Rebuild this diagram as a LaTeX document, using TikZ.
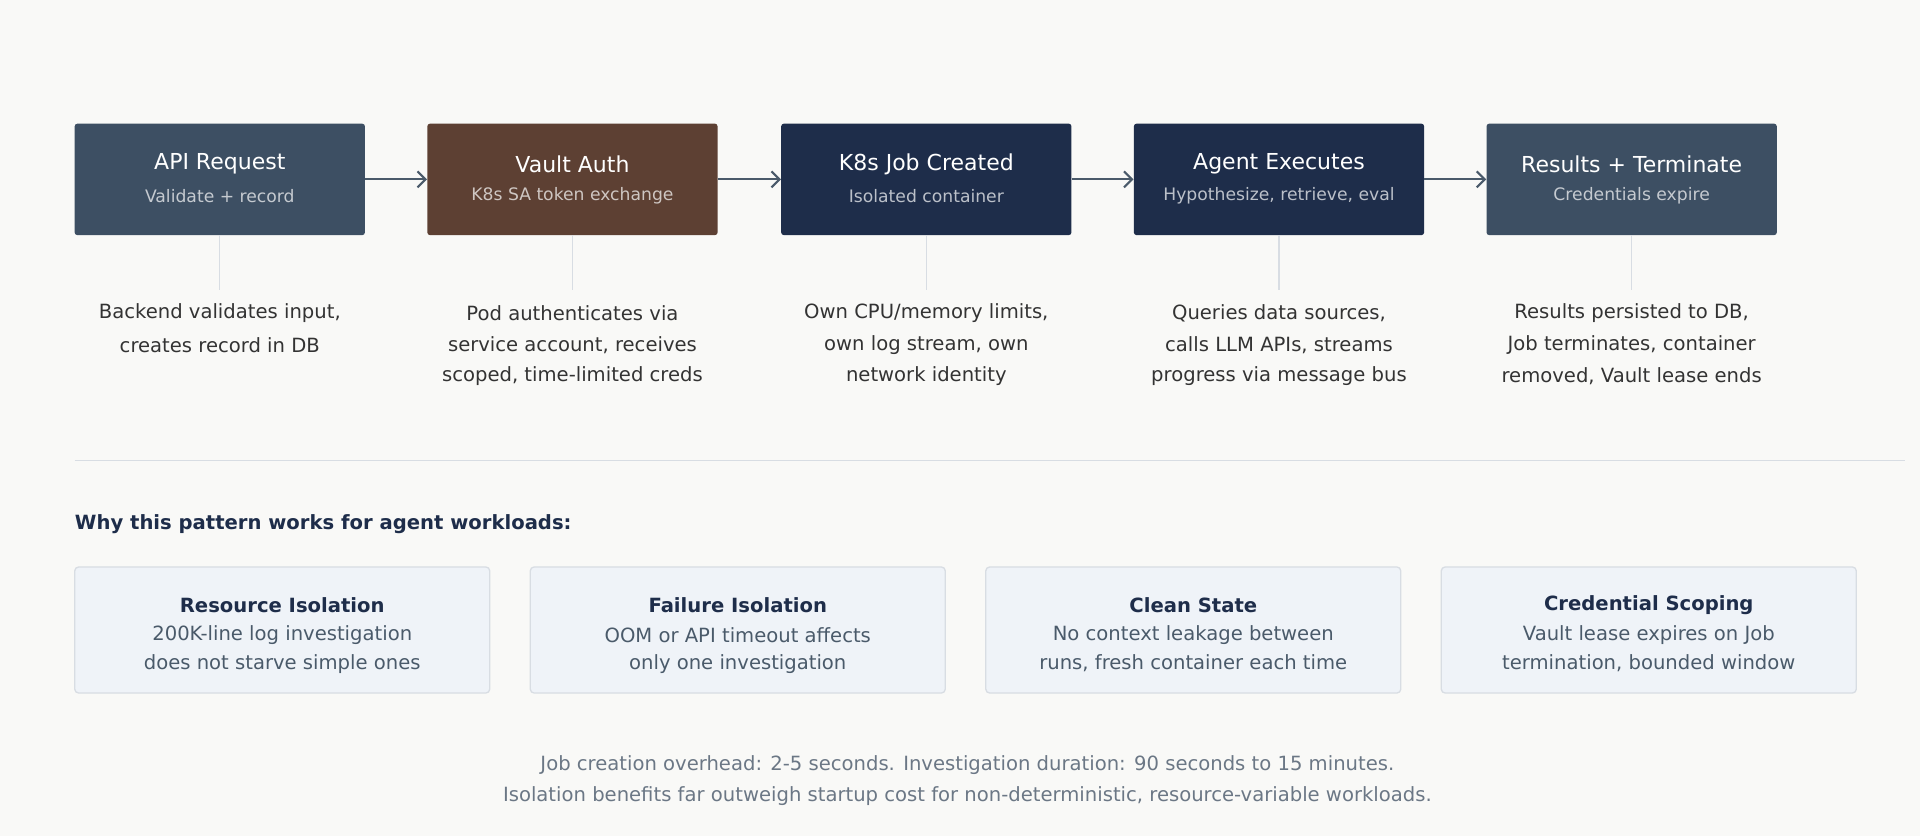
\documentclass[tikz,border=0pt]{standalone}
\usepackage{fontspec}
\setmainfont{DejaVu Sans}
\usetikzlibrary{arrows.meta}
\definecolor{bg}{HTML}{F9F9F7}
\definecolor{slate}{HTML}{3D4F63}
\definecolor{brown}{HTML}{5D4033}
\definecolor{navy}{HTML}{1E2D4A}
\definecolor{arr}{HTML}{4A5A6A}
\definecolor{txt}{HTML}{333333}
\definecolor{cardf}{HTML}{EFF3F8}
\definecolor{cardd}{HTML}{D8DDE3}
\definecolor{foot}{HTML}{6B7785}
\begin{document}
\begin{tikzpicture}[x=0.9184pt,y=-0.9184pt,
  stepbox/.style={rounded corners=2pt,minimum width=217.7pt,minimum height=83.6pt,inner sep=0pt},
  ttl/.style={text=white,font=\fontsize{16.5pt}{19pt}\selectfont},
  sub/.style={font=\fontsize{12.9pt}{15pt}\selectfont},
  desc/.style={text=txt,font=\fontsize{14.7pt}{17pt}\selectfont},
  flow/.style={draw=arr,line width=1.6pt,-{Straight Barb[length=6pt,width=12pt,line width=1.6pt]}},
  stem/.style={draw=cardd,line width=0.8pt},
  card/.style={draw=cardd,fill=cardf,line width=1pt,rounded corners=3pt,minimum width=311.3pt,minimum height=94.6pt},
  ctitle/.style={text=navy,font=\bfseries\fontsize{14.7pt}{17pt}\selectfont},
  ctext/.style={text=arr,font=\fontsize{14.7pt}{17pt}\selectfont}]
\fill[bg] (0,0) rectangle (1568,683);
\useasboundingbox (0,0) rectangle (1568,683);
\foreach \n/\x/\c/\t/\s/\da/\db/\dc in {
 a/179.5/slate/API Request/Validate + record/{Backend validates input,}/creates record in DB/{},
 b/467.5/brown/Vault Auth/K8s SA token exchange/Pod authenticates via/{service account, receives}/{scoped, time-limited creds},
 c/756.5/navy/K8s Job Created/Isolated container/{Own CPU/memory limits,}/{own log stream, own}/network identity,
 d/1044.5/navy/Agent Executes/{Hypothesize, retrieve, eval}/{Queries data sources,}/{calls LLM APIs, streams}/progress via message bus,
 e/1332.5/slate/Results + Terminate/Credentials expire/{Results persisted to DB,}/{Job terminates, container}/{removed, Vault lease ends}}{
  \node[stepbox,fill=\c] (\n) at (\x,146.5) {};
  \node[ttl] (\n t) at (\x,134) {\t};
  \node[sub,text=white!70!\c] (\n s) at (\x,160) {\s};
  \coordinate (\n l) at (\x,237);
  \draw[stem] (\n.south) -- (\n l);
  \node[desc] (\n d1) at (\x,256) {\da};
  \node[desc] (\n d2) at (\x,282) {\db};
  \node[desc] (\n d3) at (\x,307) {\dc};
}
\draw[flow] (a) -- (b);
\draw[flow] (b) -- (c);
\draw[flow] (c) -- (d);
\draw[flow] (d) -- (e);
\coordinate (s1) at (61,376);
\coordinate (s2) at (1556,376);
\draw[cardd,line width=0.8pt] (s1) -- (s2);
\node[anchor=west,inner sep=0pt,text=navy,font=\bfseries\fontsize{14.7pt}{17pt}\selectfont] (why) at (61,428) {Why this pattern works for agent workloads:};
\foreach \n/\x/\t/\la/\lb in {
 r/230.5/Resource Isolation/200K-line log investigation/does not starve simple ones,
 f/602.5/Failure Isolation/OOM or API timeout affects/only one investigation,
 s/974.5/Clean State/No context leakage between/{runs, fresh container each time},
 k/1346.5/Credential Scoping/Vault lease expires on Job/{termination, bounded window}}{
  \node[card] (\n) at (\x,514.5) {};
  \node[ctitle] (\n t) at (\x,494) {\t};
  \node[ctext] (\n a) at (\x,519) {\la};
  \node[ctext] (\n b) at (\x,542) {\lb};
}
\node[text=foot,font=\fontsize{14.7pt}{17pt}\selectfont] (f1) at (790,625) {Job creation overhead: 2-5 seconds. Investigation duration: 90 seconds to 15 minutes.};
\node[text=foot,font=\fontsize{14.7pt}{17pt}\selectfont] (f2) at (790,650) {Isolation benefits far outweigh startup cost for non-deterministic, resource-variable workloads.};
\end{tikzpicture}
\end{document}
